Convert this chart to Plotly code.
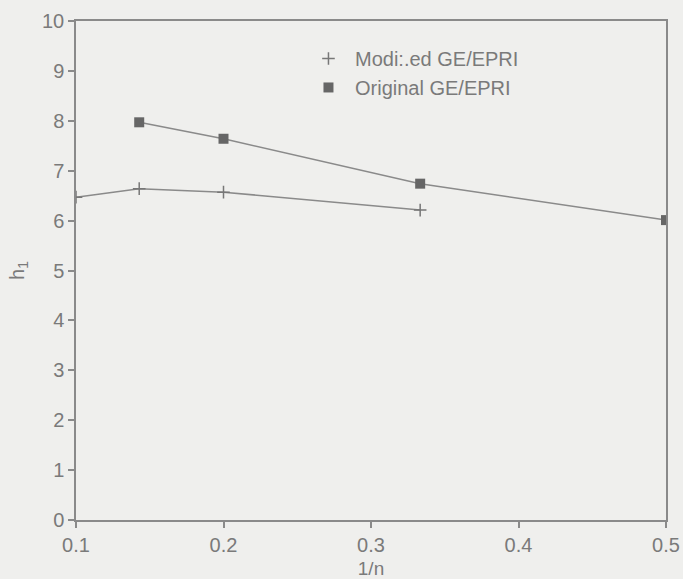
import plotly.graph_objects as go

# Data
mod_x = [0.1, 1/7, 0.2, 1/3]
mod_y = [6.47, 6.64, 6.57, 6.21]
orig_x = [1/7, 0.2, 1/3, 0.5]
orig_y = [7.97, 7.64, 6.74, 6.01]
x_ticks = [0.1, 0.2, 0.3, 0.4, 0.5]
x_tick_labels = ["0.1", "0.2", "0.3", "0.4", "0.5"]
y_ticks = list(range(0, 11))

GRAY = "#8a8a8a"
TXT = "#7a7a7a"
BG = "#efefed"
FONT = "Liberation Sans, Arial, sans-serif"

plus_marker = dict(symbol="cross-thin", size=9, color="#777", line=dict(color="#777", width=1.5))
sq_marker = dict(symbol="square", size=10, color="#666")

fig = go.Figure()
fig.add_trace(go.Scatter(
    x=mod_x, y=mod_y, mode="lines+markers", name="Modi:.ed GE/EPRI",
    line=dict(color=GRAY, width=1.5), marker=plus_marker, showlegend=False,
))
fig.add_trace(go.Scatter(
    x=orig_x, y=orig_y, mode="lines+markers", name="Original GE/EPRI",
    line=dict(color=GRAY, width=1.5), marker=sq_marker, showlegend=False,
))
# legend entries (markers only, as in the reference)
fig.add_trace(go.Scatter(x=[None], y=[None], mode="markers", name="Modi:.ed GE/EPRI",
                         marker=plus_marker, legendgroup="a"))
fig.add_trace(go.Scatter(x=[None], y=[None], mode="markers", name="Original GE/EPRI",
                         marker=sq_marker, legendgroup="b"))

axis_common = dict(
    showgrid=False, zeroline=False, showline=True, linecolor=GRAY, linewidth=1.5,
    mirror=True, ticks="outside", ticklen=6, tickcolor=GRAY, tickwidth=1.5,
    tickfont=dict(family=FONT, size=20, color=TXT), automargin=False,
)
fig.update_xaxes(range=[0.1, 0.5], tickvals=x_ticks, ticktext=x_tick_labels,
                 title=dict(text="1/n", font=dict(family=FONT, size=19, color=TXT), standoff=8),
                 **axis_common)
fig.update_yaxes(range=[0, 10], tickvals=y_ticks,
                 title=dict(text="h<sub>1</sub>", font=dict(family=FONT, size=20, color=TXT), standoff=12),
                 **axis_common)

fig.update_layout(
    width=683, height=579,
    margin=dict(l=76, r=17, t=21, b=59),
    paper_bgcolor=BG, plot_bgcolor=BG,
    showlegend=True,
    legend=dict(x=0.383, y=0.964, xanchor="left", yanchor="top", bgcolor="rgba(0,0,0,0)",
                font=dict(family=FONT, size=20, color=TXT), itemwidth=43,
                tracegroupgap=0, traceorder="grouped"),
)

fig.write_html("out.html")
